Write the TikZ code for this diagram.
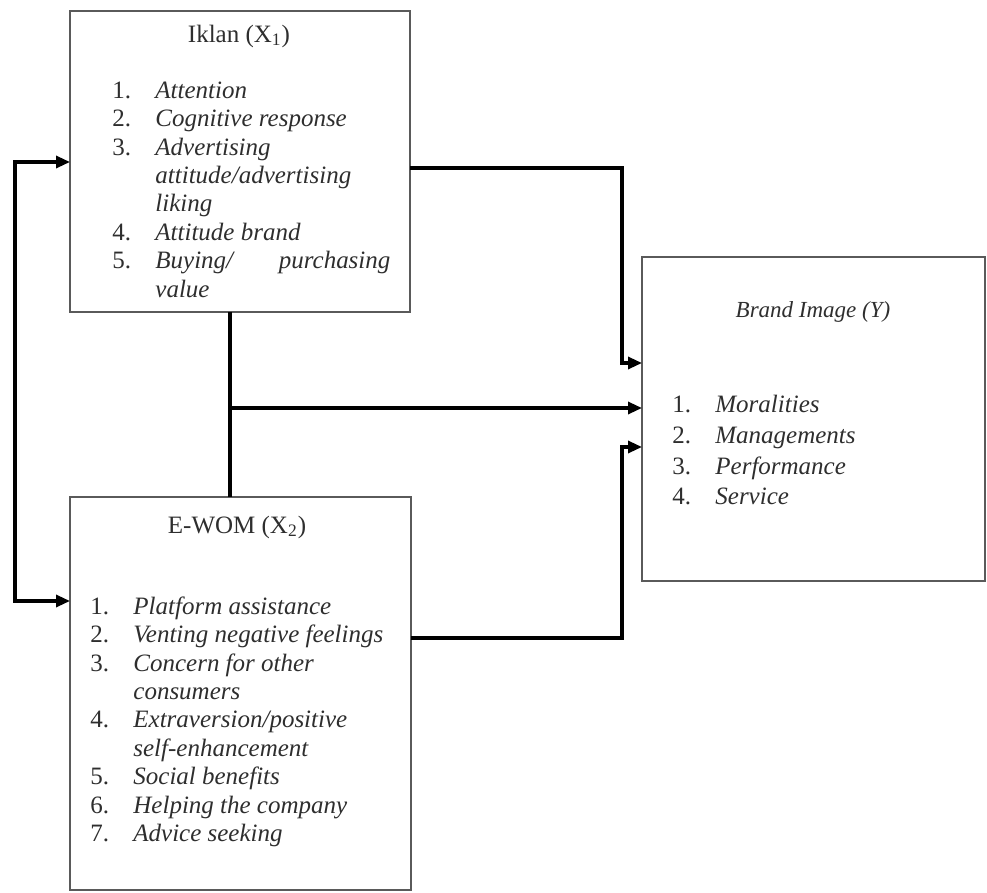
\documentclass[tikz,border=0pt]{standalone}
\usepackage{fontspec}
\setmainfont{Liberation Serif}
\usetikzlibrary{arrows.meta, positioning}
\definecolor{boxline}{HTML}{5A5A5A}
\definecolor{txt}{HTML}{2E2E2E}

\begin{document}
\begin{tikzpicture}[x=0.5pt, y=-0.5pt,
  >={Triangle[length=7pt,width=6pt]},
  varbox/.style={draw=boxline, line width=1.2pt, inner sep=0pt, outer sep=0pt},
  vartitle/.style={text=txt, inner sep=0pt, font=\fontsize{12.5}{14.2}\selectfont},
  itemlist/.style={anchor=north west, inner sep=0pt, text=txt,
                   font=\fontsize{12.5}{14.2}\selectfont},
  flow/.style={line width=1.6pt}]
  \useasboundingbox (0,0) rectangle (987,893);
  % variable boxes
  \node[varbox, minimum width=170pt, minimum height=150.5pt] (iklan) at (240,161.5) {};
  \node[varbox, minimum width=170.5pt, minimum height=196.5pt] (ewom) at (240.5,693.5) {};
  \node[varbox, minimum width=171.5pt, minimum height=162pt] (brand) at (813.5,419) {};
  % titles
  \node[vartitle] (iklanT) at (239,36) {Iklan (X\textsubscript{1})};
  \node[vartitle] (ewomT) at (237,527) {E-WOM (X\textsubscript{2})};
  \node[vartitle, font=\fontsize{11.5}{13}\selectfont\itshape] (brandT) at (813,312)
    {Brand Image (Y)};
  % indicators
  \node[itemlist] (iklanL) at (112,78) {\begin{tabular}{@{}p{21.5pt}@{}l@{}}
    1. & \textit{Attention}\\
    2. & \textit{Cognitive response}\\
    3. & \textit{Advertising}\\
       & \textit{attitude/advertising}\\
       & \textit{liking}\\
    4. & \textit{Attitude brand}\\
    5. & \makebox[117.5pt][s]{\textit{Buying/ purchasing}}\\
       & \textit{value}
  \end{tabular}};
  \node[itemlist] (ewomL) at (90,594) {\begin{tabular}{@{}p{21.5pt}@{}l@{}}
    1. & \textit{Platform assistance}\\
    2. & \textit{Venting negative feelings}\\
    3. & \textit{Concern for other}\\
       & \textit{consumers}\\
    4. & \textit{Extraversion/positive}\\
       & \textit{self-enhancement}\\
    5. & \textit{Social benefits}\\
    6. & \textit{Helping the company}\\
    7. & \textit{Advice seeking}
  \end{tabular}};
  \node[itemlist] (brandL) at (672,391) {\def\arraystretch{1.08}%
  \begin{tabular}{@{}p{21.5pt}@{}l@{}}
    1. & \textit{Moralities}\\
    2. & \textit{Managements}\\
    3. & \textit{Performance}\\
    4. & \textit{Service}
  \end{tabular}};
  % connectors
  \coordinate (lfTop) at (15,162);
  \coordinate (lfBot) at (15,601);
  \coordinate (elbA) at (622,168);
  \coordinate (elbB) at (622,638);
  \coordinate (mid) at (230,408);
  \coordinate (inA) at (0,363);
  \coordinate (inB) at (0,447);
  \draw[flow, <->] (iklan.west |- lfTop) -- (lfTop) -- (lfBot) -- (ewom.west |- lfBot);
  \draw[flow, ->] (iklan.east |- elbA) -- (elbA) |- (brand.west |- inA);
  \draw[flow, ->] (ewom.east |- elbB) -- (elbB) |- (brand.west |- inB);
  \draw[flow] (iklan.south -| mid) -- (ewom.north -| mid);
  \draw[flow, ->] (mid) -- (brand.west |- mid);
\end{tikzpicture}
\end{document}
